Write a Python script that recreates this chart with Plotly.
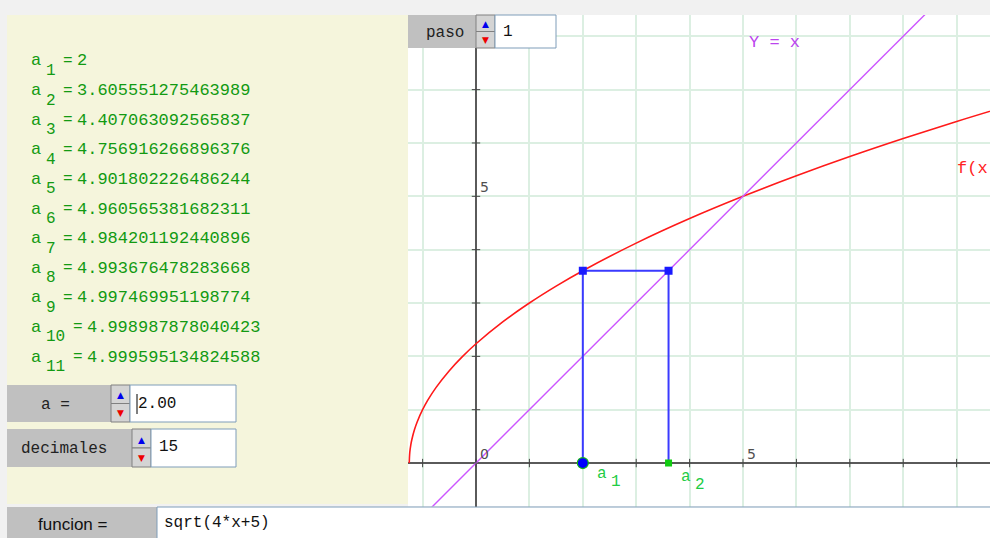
import plotly.graph_objects as go

W, H = 990, 538

# ---------------- data ----------------
seq_index = list(range(1, 12))
seq_values = [2, 3.605551275463989, 4.407063092565837, 4.756916266896376,
              4.901802226486244, 4.960565381682311, 4.984201192440896,
              4.993676478283668, 4.997469951198774, 4.998987878040423,
              4.999595134824588]
a_input = "2.00"
decimales_input = "15"
paso_input = "1"
func_text = "sqrt(4*x+5)"

# f(x) = sqrt(4x+5)
curve_x = [-1.25, -1.24, -1.22, -1.2, -1.15, -1.1, -1.0, -0.9, -0.75, -0.5, -0.25,
           0, 0.5, 1, 1.5, 2, 3, 4, 5, 6, 7, 8, 9, 10]
curve_y = [0, 0.2, 0.346, 0.447, 0.632, 0.775, 1.0, 1.183, 1.414, 1.732, 2.0,
           2.236, 2.646, 3.0, 3.317, 3.606, 4.123, 4.583, 5.0, 5.385, 5.745,
           6.083, 6.403, 6.708]
identity_x = [-2, 11]
identity_y = [-2, 11]
xticks = list(range(-1, 10))
yticks = list(range(1, 9))
axis_labels_x = [0, 5]
axis_labels_y = [5]

X_RANGE = [-1.2734, 9.625]
Y_RANGE = [-0.8146, 8.399]

MONO = "Liberation Mono"
GREEN_TXT = "#129a12"


def px(x):
    return x / W


def py(y):
    return 1 - y / H


fig = go.Figure()

# ---------------- graph traces ----------------
fig.add_trace(go.Scatter(x=curve_x, y=curve_y, mode="lines",
                         line=dict(color="#ff1a1a", width=1.6, shape="spline"),
                         hoverinfo="skip"))
fig.add_trace(go.Scatter(x=identity_x, y=identity_y, mode="lines",
                         line=dict(color="#cc55ff", width=1.4), hoverinfo="skip"))
a1, a2 = seq_values[0], seq_values[1]
fig.add_trace(go.Scatter(x=[a1, a1, a2, a2], y=[0, a2, a2, 0], mode="lines",
                         line=dict(color="#3a3aff", width=2), hoverinfo="skip"))
fig.add_trace(go.Scatter(x=[a1, a2], y=[a2, a2], mode="markers",
                         marker=dict(symbol="square", size=8, color="#1a1aff"),
                         hoverinfo="skip"))
# ticks on axes
fig.add_trace(go.Scatter(x=xticks, y=[0] * len(xticks), mode="markers",
                         marker=dict(symbol="line-ns", size=6,
                                     line=dict(color="#444444", width=1)),
                         hoverinfo="skip"))
fig.add_trace(go.Scatter(x=[0] * len(yticks), y=yticks, mode="markers",
                         marker=dict(symbol="line-ew", size=6,
                                     line=dict(color="#444444", width=1)),
                         hoverinfo="skip"))
fig.add_trace(go.Scatter(x=[a2], y=[0], mode="markers",
                         marker=dict(symbol="square", size=7, color="#11cc11"),
                         hoverinfo="skip"))
fig.add_trace(go.Scatter(x=[a1], y=[0], mode="markers",
                         marker=dict(symbol="circle", size=11, color="#0000ff",
                                     line=dict(color="#11bb11", width=1.2)),
                         hoverinfo="skip"))

shapes = []
annotations = []


def rect(x0, y0, x1, y1, fill, line=None, lw=1):
    shapes.append(dict(type="rect", xref="paper", yref="paper",
                       x0=px(x0), x1=px(x1), y0=py(y1), y1=py(y0),
                       fillcolor=fill,
                       line=dict(color=line or fill, width=lw if line else 0)))


def text(x, y, s, size=17, color="#000000", family=MONO, xanchor="left"):
    annotations.append(dict(xref="paper", yref="paper", x=px(x), y=py(y),
                            text=s, showarrow=False, xanchor=xanchor,
                            yanchor="middle",
                            font=dict(family=family, size=size, color=color)))


def spinner(x0, y0, x1, y1):
    ym = (y0 + y1) / 2
    rect(x0, y0, x1, ym, "#d4d4d4", "#808080", 1)
    rect(x0, ym, x1, y1, "#d4d4d4", "#808080", 1)
    xc = (x0 + x1) / 2
    text(xc, (y0 + ym) / 2 + 1, "▲", size=9, color="#0000ee",
         family="DejaVu Sans", xanchor="center")
    text(xc, (ym + y1) / 2, "▼", size=9, color="#ee0000",
         family="DejaVu Sans", xanchor="center")


# ---------------- left panel ----------------
rect(7, 15, 408, 504, "#f5f5dc")

for i, (n, v) in enumerate(zip(seq_index, seq_values)):
    yc = 61 + 29.6 * i
    shift = 10 * (len(str(n)) - 1)
    text(29, yc, "a", color=GREEN_TXT)
    text(44, yc + 10, str(n), size=16, color=GREEN_TXT)
    text(61 + shift, yc, "=", size=16, color=GREEN_TXT)
    text(75 + shift, yc, f"{v}", color=GREEN_TXT)

# a = widget
rect(7, 385, 111, 422, "#c0c0c0")
text(39, 405, "a =", size=16, color="#222222")
spinner(111, 385, 130, 422)
rect(130, 385, 236, 422, "#ffffff", "#7f9db9", 1)
text(136, 404, a_input, size=16, color="#111111")
shapes.append(dict(type="line", xref="paper", yref="paper",
                   x0=px(137), x1=px(137), y0=py(394), y1=py(414),
                   line=dict(color="#000000", width=1)))

# decimales widget
rect(7, 429, 132, 467, "#c0c0c0")
text(19, 449, "decimales", size=16, color="#222222")
spinner(132, 429, 151, 467)
rect(151, 429, 236, 467, "#ffffff", "#7f9db9", 1)
text(157, 447, decimales_input, size=16, color="#111111")

# funcion bar
rect(7, 507, 157, 538, "#c0c0c0")
text(36, 524, "funcion =", size=17, color="#111111", family="Liberation Sans")
rect(157, 507, 992, 540, "#ffffff", "#7f9db9", 1)
text(162, 523, func_text, size=16, color="#111111")

# paso widget (over graph)
rect(408, 15, 476, 48, "#c0c0c0")
text(424, 33, "paso", size=16, color="#222222")
spinner(476, 15, 495, 48)
rect(495, 15, 556, 48, "#ffffff", "#7f9db9", 1)
text(501, 32, paso_input, size=16, color="#111111")

# ---------------- graph labels ----------------
for v in axis_labels_x:
    annotations.append(dict(x=v, y=0, xref="x", yref="y", text=str(v),
                            showarrow=False, xshift=8, yshift=9,
                            font=dict(family="DejaVu Sans", size=14,
                                      color="#505050")))
for v in axis_labels_y:
    annotations.append(dict(x=0, y=v, xref="x", yref="y", text=str(v),
                            showarrow=False, xshift=8, yshift=9,
                            font=dict(family="DejaVu Sans", size=14,
                                      color="#505050")))

for k, (xs, ys) in enumerate([(18, -11), (16, -14)]):
    xv = seq_values[k]
    annotations.append(dict(x=xv, y=0, xref="x", yref="y", text="a",
                            showarrow=False, xshift=xs + 1, yshift=ys,
                            font=dict(family=MONO, size=16, color="#22cc44")))
    annotations.append(dict(x=xv, y=0, xref="x", yref="y", text=str(k + 1),
                            showarrow=False, xshift=xs + 15, yshift=ys - 8,
                            font=dict(family=MONO, size=16, color="#22cc44")))

text(747, 43, "Y = x", size=17, color="#bb44ee")
text(955, 168, "f(x", size=17, color="#ff2222")

fig.update_layout(
    width=W, height=H,
    margin=dict(l=0, r=0, t=0, b=0),
    paper_bgcolor="#f1f1f1",
    plot_bgcolor="#ffffff",
    showlegend=False,
    shapes=shapes,
    annotations=annotations,
    xaxis=dict(domain=[408 / W, 1], range=X_RANGE, dtick=1, tick0=0,
               showgrid=True, gridcolor="#dcefe2", gridwidth=1.6,
               zeroline=True, zerolinecolor="#5a5a5a", zerolinewidth=1.5,
               showticklabels=False, ticks="", fixedrange=True),
    yaxis=dict(domain=[1 - 506.5 / H, 1 - 15 / H], range=Y_RANGE, dtick=1,
               tick0=0, showgrid=True, gridcolor="#dcefe2", gridwidth=1.6,
               zeroline=True, zerolinecolor="#5a5a5a", zerolinewidth=1.5,
               showticklabels=False, ticks="", fixedrange=True),
)

fig.write_html("out.html", config={"displayModeBar": False},
               post_script="document.body.style.margin='0';"
                           "document.body.style.overflow='hidden';")
